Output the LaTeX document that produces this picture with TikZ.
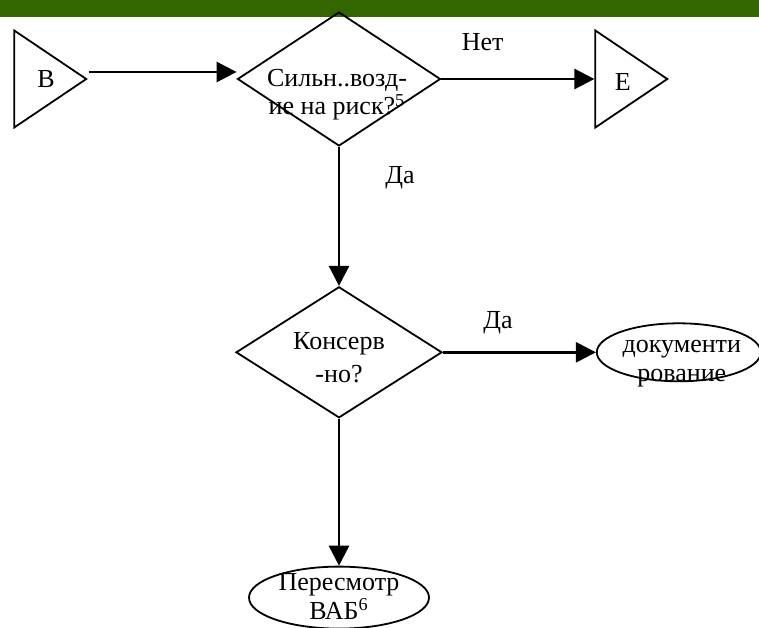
\documentclass[tikz,border=0pt]{standalone}
\usepackage{fontspec}
\setmainfont{Liberation Serif}
\usetikzlibrary{positioning,shapes.geometric,arrows.meta}
\definecolor{bargreen}{RGB}{51,102,0}

\begin{document}
\begin{tikzpicture}[x=0.5pt, y=-0.5pt, font=\fontsize{13pt}{15pt}\selectfont,
  decision/.style={draw, diamond, line width=0.9pt, inner sep=-30pt},
  connector/.style={draw, isosceles triangle, isosceles triangle stretches, line width=0.9pt, inner sep=0pt, minimum width=48.5pt, minimum height=36pt},
  terminal/.style={draw, ellipse, line width=0.9pt, inner sep=-20pt},
  inside/.style={align=center, inner sep=0pt},
  flow/.style={-{Triangle[length=10pt,width=10pt]}, line width=1.3pt}]
  \useasboundingbox (0,0) rectangle (759,627);
  \fill[bargreen] (0,0) rectangle (759,17);

  % shapes, text set as centre labels
  \node[decision, minimum width=101.5pt, minimum height=67pt,
    label={[inside, font=\fontsize{13pt}{14pt}\selectfont, xshift=-1pt, yshift=-8pt]center:{Сильн..возд-\\ие на риск?\textsuperscript{5}}}] (risk) at (339,79) {};
  \node[connector, left=74pt of risk, label={[inside, xshift=4pt]center:B}] (start) {\phantom{B}};
  \node[connector, right=76.5pt of risk, label={[inside, xshift=2pt, yshift=-1.5pt]center:E}] (stop) {\phantom{E}};
  \node[decision, minimum width=103pt, minimum height=65.5pt, below=69.5pt of risk,
    label={[inside, font=\fontsize{13pt}{16.5pt}\selectfont, yshift=-2.5pt]center:{Консерв\\-но?}}] (conserv) {};
  \node[terminal, minimum width=82pt, minimum height=29pt, right=76.5pt of conserv,
    label={[inside, font=\fontsize{13pt}{14.5pt}\selectfont, xshift=1.5pt, yshift=-5.5pt]center:{документи\\рование}}] (docs) {};
  \node[terminal, minimum width=90pt, minimum height=31pt, below=73.5pt of conserv,
    label={[inside, font=\fontsize{13pt}{14.5pt}\selectfont, yshift=0.5pt]center:{Пересмотр\\ВАБ\textsuperscript{6}}}] (review) {};

  % connectors
  \draw[flow] ([yshift=3.5pt]start.east) -- ([yshift=3.5pt]risk.west);
  \draw[flow] (risk.east) -- node[pos=0.27, yshift=18.5pt] (no) {Нет} (stop.west);
  \draw[flow] (risk.south) -- node[pos=0.22, xshift=30.5pt] (yes1) {Да} (conserv.north);
  \draw[flow] (conserv.east) -- node[pos=0.36, yshift=15pt] (yes2) {Да} (docs.west);
  \draw[flow] (conserv.south) -- (review.north);
\end{tikzpicture}
\end{document}
